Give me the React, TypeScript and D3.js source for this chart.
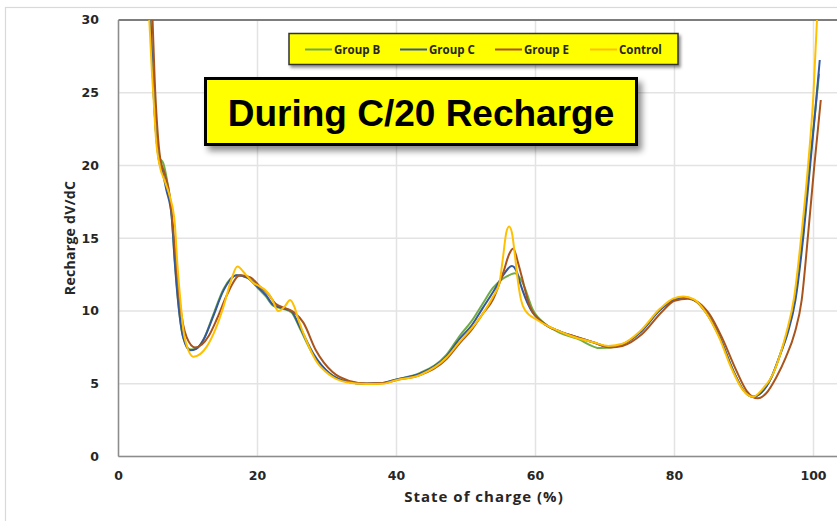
import React from "react";
import * as d3 from "d3";

// Axis ticks
const yTicks = [0, 5, 10, 15, 20, 25, 30];
const xTicks = [0, 20, 40, 60, 80, 100];

// Series labels and colours (drawing order: B, C, E, Control)
const seriesNames = ["Group B", "Group C", "Group E", "Control"];
const seriesColors = ["#70AD47", "#34599A", "#A9541C", "#FFC000"];

// Group B: state of charge (%) and recharge dV/dC
const socB = [4.6, 5.0, 5.4, 5.8, 6.45, 6.9, 7.6, 8.1, 8.6, 9.3, 10.4, 11.3, 12.3, 13.6, 15.1, 17.0, 18.5, 20.0, 21.2, 22.3, 23.7, 24.9, 26.0, 28.0, 30.4, 32.8, 35.5, 38.0, 40.0, 43.4, 47.2, 49.1, 50.8, 52.4, 53.9, 55.4, 56.4, 57.05, 58.2, 59.6, 61.7, 63.5, 66.0, 69.3, 71.5, 75.0, 77.9, 79.8, 81.4, 83.0, 84.6, 86.5, 88.4, 89.9, 91.2, 92.5, 94.0, 95.2, 96.2, 97.3, 98.5, 99.4, 100.2, 100.8];
const dvdcB = [30, 25.5, 22.2, 20.6, 20.15, 19.2, 16.8, 13.5, 10.6, 8.2, 7.35, 7.45, 8.1, 9.7, 11.5, 12.45, 12.3, 11.6, 11.0, 10.35, 10.15, 9.9, 8.9, 7.0, 5.7, 5.15, 5.0, 5.05, 5.3, 5.75, 7.0, 8.3, 9.3, 10.5, 11.6, 12.25, 12.5, 12.6, 11.9, 10.1, 9.0, 8.5, 8.1, 7.45, 7.55, 8.5, 10.07, 10.75, 10.94, 10.7, 9.85, 8.2, 5.95, 4.57, 4.1, 4.4, 5.5, 7.0, 8.5, 10.75, 15.4, 19.9, 23.5, 26.3];

// Group C
const socC = [4.6, 5.0, 5.4, 5.8, 6.3, 6.9, 7.65, 8.1, 8.6, 9.3, 10.3, 11.2, 12.2, 13.6, 15.1, 17.0, 18.5, 20.0, 21.2, 22.3, 23.7, 24.9, 26.1, 28.0, 30.4, 32.8, 35.5, 38.0, 40.0, 43.4, 47.2, 49.1, 50.8, 52.4, 53.9, 55.4, 56.6, 57.3, 57.8, 59.2, 61.3, 63.5, 66.0, 68.3, 70.5, 72.2, 75.0, 77.9, 79.8, 81.4, 83.0, 84.6, 86.5, 88.4, 89.9, 91.2, 92.5, 94.0, 95.2, 96.3, 97.4, 98.6, 99.5, 100.3, 100.9];
const dvdcC = [30, 25.5, 22.2, 20.4, 19.6, 18.3, 16.5, 13.3, 10.5, 8.2, 7.3, 7.4, 8.0, 9.6, 11.4, 12.45, 12.3, 11.67, 11.1, 10.4, 10.19, 9.96, 8.9, 7.1, 5.7, 5.15, 5.0, 5.05, 5.3, 5.7, 6.9, 8.1, 9.0, 10.2, 11.3, 12.5, 13.1, 12.7, 11.9, 10.2, 9.1, 8.6, 8.2, 7.85, 7.55, 7.65, 8.5, 10.07, 10.75, 10.94, 10.7, 9.85, 8.2, 5.95, 4.57, 4.1, 4.4, 5.5, 7.0, 8.5, 10.75, 15.4, 19.9, 24.0, 27.25];

// Group E
const socE = [4.9, 5.2, 5.6, 6.0, 6.6, 7.4, 7.9, 8.4, 8.85, 9.8, 11.0, 12.0, 13.0, 14.2, 15.6, 17.5, 19.0, 20.3, 21.5, 22.6, 24.0, 25.3, 26.6, 28.4, 30.8, 33.2, 35.8, 38.2, 40.0, 43.4, 47.2, 49.1, 50.8, 52.4, 53.9, 55.4, 56.2, 56.8, 57.5, 58.0, 59.2, 61.1, 63.5, 66.0, 68.3, 70.8, 72.5, 75.3, 78.2, 80.0, 81.9, 83.4, 85.0, 86.9, 88.9, 90.4, 92.0, 93.2, 94.6, 96.0, 97.3, 98.3, 99.25, 100.1, 101.05];
const dvdcE = [30, 26, 22.5, 20.5, 19.5, 17.85, 15.5, 12.8, 10.5, 8.2, 7.5, 7.7, 8.3, 9.5, 11.1, 12.45, 12.3, 11.7, 11.2, 10.5, 10.2, 9.9, 9.2, 7.3, 5.8, 5.2, 5.02, 5.05, 5.25, 5.6, 6.7, 7.8, 8.7, 9.8, 10.8, 12.7, 13.9, 14.3, 13.3, 12.4, 10.3, 9.2, 8.6, 8.2, 7.85, 7.5, 7.6, 8.4, 9.95, 10.7, 10.85, 10.6, 9.8, 8.1, 5.9, 4.5, 4.0, 4.35, 5.4, 6.8, 8.5, 10.75, 15.4, 19.9, 24.5];

// Control
const socCtl = [4.43, 4.8, 5.0, 5.4, 5.97, 6.6, 7.4, 8.1, 8.46, 8.95, 9.5, 10.8, 12.7, 14.0, 15.1, 16.2, 17.1, 18.3, 19.5, 20.3, 21.1, 22.0, 23.0, 23.9, 24.7, 25.3, 25.9, 27.0, 28.4, 30.4, 32.8, 35.5, 38.0, 40.0, 43.4, 47.2, 49.1, 50.8, 52.4, 53.9, 54.8, 55.3, 55.8, 56.2, 56.6, 57.0, 57.4, 57.9, 58.5, 60.2, 62.5, 65.0, 68.3, 70.5, 72.5, 75.0, 77.9, 79.8, 81.3, 82.8, 84.5, 86.4, 88.3, 89.8, 91.3, 92.6, 94.2, 95.2, 96.1, 97.2, 98.3, 99.2, 100.0, 100.5];
const dvdcCtl = [30, 26.5, 24.95, 21.8, 19.9, 19.0, 17.85, 16.0, 13.3, 10.5, 8.2, 6.86, 7.55, 8.8, 10.3, 12.1, 13.05, 12.5, 11.9, 11.7, 11.45, 10.9, 10.0, 10.3, 10.76, 10.3, 9.38, 8.0, 6.6, 5.6, 5.1, 4.98, 5.0, 5.25, 5.6, 6.8, 7.9, 8.8, 9.8, 11.0, 11.9, 13.6, 15.4, 15.8, 15.4, 14.0, 12.3, 10.8, 10.05, 9.4, 8.8, 8.3, 7.85, 7.6, 7.75, 8.6, 10.15, 10.85, 11.0, 10.8, 9.9, 8.2, 5.95, 4.6, 4.1, 4.6, 5.7, 7.0, 8.5, 10.9, 15.4, 19.9, 25.0, 30];

const seriesSoc = [socB, socC, socE, socCtl];
const seriesDvdc = [dvdcB, dvdcC, dvdcE, dvdcCtl];

const W = 837;
const H = 521;
const plot = { left: 118.5, right: 813.5, top: 20, bottom: 456.5 };

export default function App() {
  const x = d3.scaleLinear().domain([0, 100]).range([plot.left, plot.right]);
  const y = d3.scaleLinear().domain([0, 30]).range([plot.bottom, plot.top]);
  const line = d3
    .line<[number, number]>()
    .x((d) => x(d[0]))
    .y((d) => y(d[1]))
    .curve(d3.curveMonotoneX);

  const paths = seriesSoc.map((soc, i) =>
    line(soc.map((s, j) => [s, seriesDvdc[i][j]] as [number, number]))
  );

  const tickFont = "'DejaVu Sans', Verdana, sans-serif";
  const labelFont = "'Open Sans', 'Noto Sans', sans-serif";

  const legendX0 = 305;
  const legendStep = 95;

  return (
    <div style={{ position: "fixed", left: 0, top: 0, width: W, height: H, background: "#fff" }}>
      <svg width={W} height={H} viewBox={`0 0 ${W} ${H}`}>
        <defs>
          <clipPath id="plotClip">
            <rect x={plot.left} y={plot.top} width={W - plot.left + 10} height={plot.bottom - plot.top} />
          </clipPath>
          <filter id="legendShadow" x="-5%" y="-20%" width="115%" height="160%">
            <feDropShadow dx="2" dy="2.5" stdDeviation="1.5" floodColor="#000" floodOpacity="0.45" />
          </filter>
          <filter id="titleShadow" x="-5%" y="-10%" width="115%" height="140%">
            <feDropShadow dx="4" dy="5" stdDeviation="3" floodColor="#000" floodOpacity="0.45" />
          </filter>
        </defs>

        {/* outer chart frame */}
        <rect x={5.5} y={7.5} width={W + 20} height={H + 20} fill="#fff" stroke="#d9d9d9" strokeWidth={1.2} />

        {/* gridlines */}
        {yTicks.map((t) => (
          <line key={`gy${t}`} x1={plot.left} x2={W + 5} y1={y(t)} y2={y(t)} stroke="#e3e3e3" strokeWidth={1.5} />
        ))}
        {xTicks.map((t) => (
          <line key={`gx${t}`} x1={x(t)} x2={x(t)} y1={plot.top} y2={plot.bottom} stroke="#e3e3e3" strokeWidth={1.5} />
        ))}

        {/* axis lines */}
        <line x1={plot.left} x2={W + 5} y1={plot.top} y2={plot.top} stroke="#595959" strokeWidth={1.5} />
        <line x1={plot.left} x2={W + 5} y1={plot.bottom} y2={plot.bottom} stroke="#8c8c8c" strokeWidth={1.5} />
        <line x1={plot.left} x2={plot.left} y1={plot.top} y2={plot.bottom} stroke="#8c8c8c" strokeWidth={1.5} />

        {/* tick labels */}
        {yTicks.map((t) => (
          <text key={`ty${t}`} x={99} y={y(t)} dy="0.35em" textAnchor="end" fontFamily={tickFont} fontWeight="bold" fontSize={12.5} fill="#262626">
            {t}
          </text>
        ))}
        {xTicks.map((t) => (
          <text key={`tx${t}`} x={x(t)} y={476} dy="0.35em" textAnchor="middle" fontFamily={tickFont} fontWeight="bold" fontSize={12.5} fill="#262626">
            {t}
          </text>
        ))}

        {/* axis titles */}
        <text x={484} y={497} dy="0.35em" textAnchor="middle" fontFamily={labelFont} fontWeight="bold" fontSize={15} letterSpacing={1} fill="#262626">
          State of charge (%)
        </text>
        <text transform="translate(70,238) rotate(-90)" dy="0.35em" textAnchor="middle" fontFamily={labelFont} fontWeight="bold" fontSize={14} letterSpacing={0.3} fill="#262626">
          Recharge dV/dC
        </text>

        {/* series */}
        <g clipPath="url(#plotClip)">
          {paths.map((d, i) => (
            <path key={seriesNames[i]} d={d || ""} fill="none" stroke={seriesColors[i]} strokeWidth={2} strokeLinejoin="round" />
          ))}
        </g>

        {/* legend */}
        <rect x={289} y={33.5} width={389} height={31} fill="#FFFF00" stroke="#333" strokeWidth={1.5} filter="url(#legendShadow)" />
        {seriesNames.map((name, i) => {
          const lx = legendX0 + i * legendStep;
          return (
            <g key={`lg${name}`}>
              <line x1={lx} x2={lx + 27} y1={49.5} y2={49.5} stroke={seriesColors[i]} strokeWidth={2} />
              <text x={lx + 29} y={49.5} dy="0.35em" fontFamily={labelFont} fontWeight="bold" fontSize={11.5} fill="#262626">
                {name}
              </text>
            </g>
          );
        })}

        {/* title box */}
        <rect x={205.5} y={78.5} width={431} height={66} fill="#FFFF00" stroke="#000" strokeWidth={3} filter="url(#titleShadow)" />
        <text x={421} y={126} textAnchor="middle" fontFamily="'Liberation Sans', Arial, sans-serif" fontWeight="bold" fontSize={37} fill="#000">
          During C/20 Recharge
        </text>
      </svg>
    </div>
  );
}
